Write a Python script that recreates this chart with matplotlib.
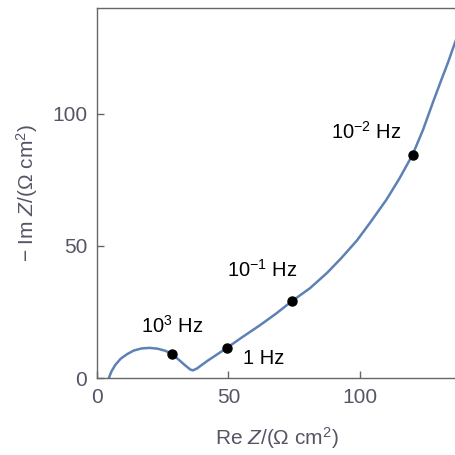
import numpy as np
import matplotlib.pyplot as plt

# Nyquist curve (Re Z, -Im Z), Ohm cm^2
re_z = [4.5, 5.5, 7.0, 9.0, 11.4, 14.0, 17.0, 20.0, 23.0, 26.0, 28.5, 31.0,
        33.5, 35.5, 36.5, 38.0, 42.0, 49.4, 55.0, 62.0, 68.0, 74.0, 81.0,
        87.5, 93.0, 98.8, 104.0, 110.0, 115.0, 120.0, 124.0, 127.8, 131.0,
        133.5, 136.5]
im_z = [0.0, 2.5, 5.0, 7.3, 9.0, 10.4, 11.2, 11.4, 11.1, 10.3, 9.1, 7.0,
        4.8, 3.2, 2.9, 3.6, 6.5, 11.4, 15.3, 20.0, 24.3, 29.0, 34.0,
        39.8, 45.5, 52.0, 59.0, 67.4, 75.5, 84.5, 94.0, 104.5, 113.0,
        119.5, 128.0]

# marked frequencies
pt_re = [28.5, 49.4, 74.0, 120.0]
pt_im = [9.1, 11.4, 29.0, 84.5]
pt_labels = [r'$\mathregular{10^{3}}$ Hz', '1 Hz',
             r'$\mathregular{10^{-1}}$ Hz', r'$\mathregular{10^{-2}}$ Hz']
lbl_re = [28.5, 63.5, 63.0, 102.5]
lbl_im = [19.8, 7.5, 41.0, 93.0]

plt.rcParams['font.family'] = ['Liberation Sans', 'DejaVu Sans']
plt.rcParams['mathtext.fontset'] = 'custom'
plt.rcParams['mathtext.rm'] = 'Liberation Sans'
plt.rcParams['mathtext.it'] = 'Liberation Sans:italic'

fig = plt.figure(figsize=(4.56, 4.55), dpi=100)
ax = fig.add_axes([0.2127, 0.1692, 0.7873, 0.8132])

ax.plot(re_z, im_z, color='#5E81B5', lw=1.8, zorder=2)
ax.plot(pt_re, pt_im, 'o', color='black', ms=6.5, zorder=3)
for x, y, s in zip(lbl_re, lbl_im, pt_labels):
    ax.text(x, y, s, ha='center', va='center', fontsize=14.5, color='black')

ax.set_xlim(0, 136.5)
ax.set_ylim(0, 140)
ax.set_xticks([0, 50, 100])
ax.set_yticks([0, 50, 100])

ax.spines['right'].set_visible(False)
for s in ['left', 'top', 'bottom']:
    ax.spines[s].set_color('#666666')
    ax.spines[s].set_linewidth(1.0)
ax.tick_params(direction='in', length=5, width=1, color='#666666',
               labelcolor='#555566', labelsize=15, pad=7)

ax.set_xlabel(r'Re $\mathit{Z}$/($\mathregular{\Omega}$ cm$\mathregular{^2}$)',
              fontsize=15, color='#555566', labelpad=13)
ax.set_ylabel(r'$-$ Im $\mathit{Z}$/($\mathregular{\Omega}$ cm$\mathregular{^2}$)',
              fontsize=15, color='#555566', labelpad=9)

fig.savefig('out.png', dpi=100)
